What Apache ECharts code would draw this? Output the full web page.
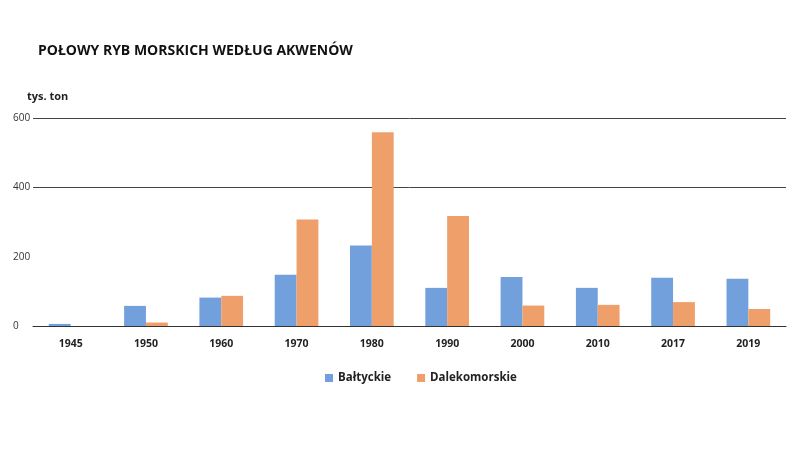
<!DOCTYPE html>
<html>
<head>
<meta charset="utf-8">
<script src="https://cdn.jsdelivr.net/npm/echarts@6/dist/echarts.min.js"></script>
<style>
  html, body { margin: 0; padding: 0; background: #fff; }
  #chart { width: 800px; height: 450px; }
</style>
</head>
<body>
<div id="chart"></div>
<script>
const years = ['1945', '1950', '1960', '1970', '1980', '1990', '2000', '2010', '2017', '2019'];
const baltyckie = [6, 58, 82, 148, 232, 110, 141, 110, 139, 136];
const dalekomorskie = [0, 10, 87, 307, 559, 317, 59, 61, 69, 49];
const yTicks = [0, 200, 400, 600];

const chart = echarts.init(document.getElementById('chart'));

const option = {
    textStyle: { fontFamily: 'Open Sans' },
    title: [
        {
            text: 'POŁOWY RYB MORSKICH WEDŁUG AKWENÓW',
            left: 33,
            top: 39,
            textStyle: { fontSize: 14, fontWeight: 'bold', color: '#111' }
        },
        {
            text: 'tys. ton',
            left: 22,
            top: 86,
            textStyle: { fontSize: 11, fontWeight: 'bold', color: '#222' }
        }
    ],
    legend: {
        top: 367,
        left: 320,
        itemWidth: 8,
        itemHeight: 8,
        itemGap: 26,
        icon: 'rect',
        textStyle: { fontSize: 11.5, fontWeight: 'bold', color: '#222' },
        data: ['Bałtyckie', 'Dalekomorskie']
    },
    grid: { left: 33, right: 14, top: 118, bottom: 124 },
    xAxis: {
        type: 'category',
        data: years,
        axisLine: { lineStyle: { color: '#333', width: 1 } },
        axisTick: { show: false },
        axisLabel: { fontSize: 10.5, fontWeight: 'bold', color: '#222', margin: 13 }
    },
    yAxis: {
        type: 'value',
        min: yTicks[0],
        max: yTicks[yTicks.length - 1],
        interval: 200,
        axisLine: { show: false },
        axisTick: { show: false },
        axisLabel: { fontSize: 10, color: '#333', align: 'left', margin: 20 },
        splitLine: { lineStyle: { color: ['#444', 'rgba(0,0,0,0)', '#444', '#444'], width: 1 } }
    },
    series: [
        {
            name: 'Bałtyckie',
            type: 'bar',
            data: baltyckie,
            barGap: '0%',
            barCategoryGap: '42%',
            itemStyle: { color: '#72a0dc' }
        },
        {
            name: 'Dalekomorskie',
            type: 'bar',
            data: dalekomorskie,
            itemStyle: { color: '#efa06a' }
        }
    ]
};

chart.setOption(option);
</script>
</body>
</html>
